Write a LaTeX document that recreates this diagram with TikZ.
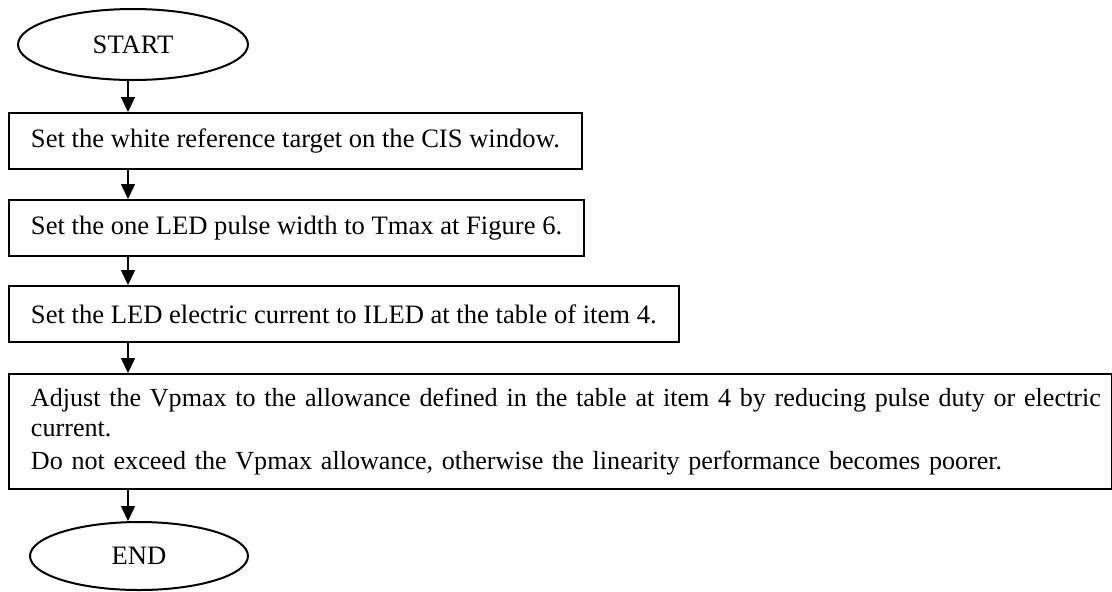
\documentclass[tikz,border=0pt]{standalone}
\usepackage{fontspec}
\setmainfont{Liberation Serif}
\usetikzlibrary{arrows.meta, shapes.geometric}

\begin{document}
\begin{tikzpicture}[x=0.5pt, y=-0.5pt,
    font=\fontsize{13.3pt}{15pt}\selectfont,
    procbox/.style={draw, line width=1pt, anchor=north west, inner xsep=11pt,
      inner ysep=0pt, minimum height=28pt},
    termnode/.style={draw, ellipse, line width=1pt, inner sep=0pt},
    flowarrow/.style={line width=0.8pt, -{Triangle[length=7.5pt, width=7pt]}}]
  \useasboundingbox (0,0) rectangle (1112,591);

  % terminals
  \node[termnode, minimum width=115pt, minimum height=35.5pt] (start) at (133,44.5) {START};
  \node[termnode, minimum width=109pt, minimum height=34pt] (end) at (139,556) {END};

  % process steps
  \node[procbox] (white) at (8,112) {Set the white reference target on the CIS window.};
  \node[procbox] (pulse) at (8,199) {Set the one LED pulse width to Tmax at Figure 6.};
  \node[procbox] (current) at (8,285) {Set the LED electric current to ILED at the table of item 4.};
  \node[procbox, font=\fontsize{13.05pt}{15pt}\selectfont, minimum height=57.5pt,
        text width=529.5pt, align=left] (adjust) at (8,373)
    {\mbox{Adjust the Vpmax to the allowance defined in the table at item 4 by reducing pulse duty or electric}\\
     current.\\[1.5pt]
     Do not exceed the Vpmax allowance, otherwise the linearity performance becomes poorer.};

  % flow
  \coordinate (spine) at (128,0);
  \draw[flowarrow] (spine |- start.south) -- (spine |- white.north);
  \draw[flowarrow] (spine |- white.south) -- (spine |- pulse.north);
  \draw[flowarrow] (spine |- pulse.south) -- (spine |- current.north);
  \draw[flowarrow] (spine |- current.south) -- (spine |- adjust.north);
  \draw[flowarrow] (spine |- adjust.south) -- (spine |- end.north);
\end{tikzpicture}
\end{document}
